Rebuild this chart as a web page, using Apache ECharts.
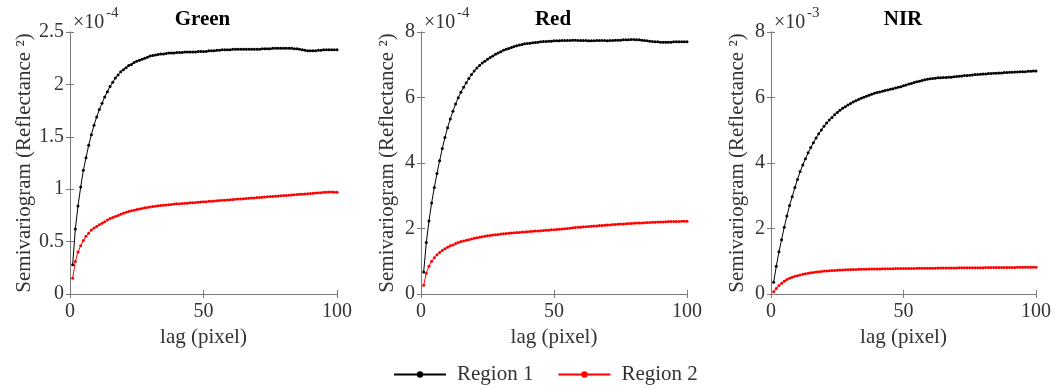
<!DOCTYPE html>
<html>
<head>
<meta charset="utf-8">
<script src="https://cdn.jsdelivr.net/npm/echarts@6/dist/echarts.min.js"></script>
<style>
  html, body { margin: 0; padding: 0; background: #fff; }
  #chart { width: 1054px; height: 389px; }
</style>
</head>
<body>
<div id="chart"></div>
<script>
// Semivariogram vs lag for three bands, two regions each.
// Values are stored in the scaled units shown on each y axis (x10^-4 or x10^-3).

const lags = Array.from({ length: 100 }, (_, i) => i + 1);

const panelTitles = ['Green', 'Red', 'NIR'];
const panelExponents = ['-4', '-4', '-3'];
const yMax = [2.5, 8, 8];
const yInterval = [0.5, 2, 2];
const xTicks = [0, 50, 100];

const greenRegion1 = [
  0.28, 0.62, 0.84, 1.02, 1.18, 1.30, 1.42, 1.52, 1.61, 1.69,
  1.76, 1.82, 1.88, 1.93, 1.98, 2.02, 2.06, 2.09, 2.12, 2.14,
  2.16, 2.18, 2.19, 2.21, 2.22, 2.23, 2.24, 2.25, 2.26, 2.27,
  2.275, 2.28, 2.285, 2.29, 2.29, 2.295, 2.30, 2.30, 2.30, 2.305,
  2.305, 2.305, 2.31, 2.31, 2.31, 2.31, 2.31, 2.315, 2.315, 2.315,
  2.315, 2.32, 2.32, 2.32, 2.325, 2.325, 2.33, 2.33, 2.33, 2.33,
  2.335, 2.335, 2.335, 2.335, 2.335, 2.335, 2.335, 2.335, 2.335, 2.335,
  2.335, 2.34, 2.34, 2.34, 2.34, 2.345, 2.345, 2.345, 2.345, 2.345,
  2.345, 2.345, 2.345, 2.34, 2.34, 2.335, 2.33, 2.325, 2.32, 2.32,
  2.32, 2.32, 2.325, 2.325, 2.33, 2.33, 2.33, 2.33, 2.33, 2.33
];
const greenRegion2 = [
  0.15, 0.31, 0.40, 0.46, 0.51, 0.55, 0.58, 0.61, 0.63, 0.645,
  0.66, 0.675, 0.69, 0.705, 0.72, 0.73, 0.74, 0.75, 0.76, 0.77,
  0.78, 0.787, 0.794, 0.80, 0.806, 0.812, 0.817, 0.822, 0.826, 0.83,
  0.834, 0.838, 0.841, 0.844, 0.847, 0.85, 0.852, 0.855, 0.858, 0.86,
  0.861, 0.863, 0.866, 0.867, 0.87, 0.871, 0.873, 0.876, 0.877, 0.88,
  0.881, 0.884, 0.885, 0.888, 0.89, 0.891, 0.894, 0.895, 0.898, 0.90,
  0.901, 0.903, 0.906, 0.907, 0.91, 0.911, 0.913, 0.915, 0.917, 0.92,
  0.921, 0.923, 0.925, 0.927, 0.93, 0.931, 0.933, 0.935, 0.937, 0.94,
  0.941, 0.943, 0.945, 0.947, 0.95, 0.951, 0.953, 0.955, 0.957, 0.96,
  0.961, 0.963, 0.965, 0.967, 0.97, 0.972, 0.974, 0.973, 0.972, 0.97
];
const redRegion1 = [
  0.67, 1.57, 2.23, 2.78, 3.25, 3.68, 4.07, 4.44, 4.78, 5.08,
  5.34, 5.58, 5.80, 5.99, 6.16, 6.31, 6.45, 6.58, 6.70, 6.81,
  6.90, 6.98, 7.05, 7.11, 7.17, 7.22, 7.27, 7.32, 7.36, 7.40,
  7.44, 7.47, 7.50, 7.53, 7.56, 7.58, 7.60, 7.62, 7.64, 7.65,
  7.66, 7.67, 7.68, 7.69, 7.70, 7.71, 7.71, 7.72, 7.72, 7.73,
  7.73, 7.73, 7.74, 7.74, 7.74, 7.74, 7.75, 7.75, 7.74, 7.74,
  7.74, 7.74, 7.73, 7.73, 7.73, 7.74, 7.74, 7.74, 7.74, 7.73,
  7.74, 7.74, 7.75, 7.75, 7.75, 7.76, 7.76, 7.76, 7.77, 7.77,
  7.76, 7.76, 7.75, 7.74, 7.73, 7.72, 7.71, 7.70, 7.70, 7.69,
  7.69, 7.69, 7.69, 7.69, 7.70, 7.70, 7.70, 7.70, 7.70, 7.70
];
const redRegion2 = [
  0.27, 0.63, 0.85, 1.00, 1.11, 1.20, 1.27, 1.33, 1.38, 1.43,
  1.47, 1.50, 1.54, 1.57, 1.60, 1.62, 1.64, 1.66, 1.68, 1.70,
  1.72, 1.73, 1.75, 1.76, 1.78, 1.79, 1.80, 1.81, 1.82, 1.83,
  1.84, 1.85, 1.855, 1.86, 1.87, 1.875, 1.88, 1.89, 1.895, 1.90,
  1.91, 1.915, 1.92, 1.925, 1.93, 1.94, 1.945, 1.95, 1.96, 1.965,
  1.97, 1.98, 1.985, 1.99, 2.00, 2.01, 2.02, 2.03, 2.035, 2.04,
  2.05, 2.055, 2.06, 2.07, 2.075, 2.08, 2.09, 2.095, 2.10, 2.105,
  2.11, 2.12, 2.125, 2.13, 2.135, 2.14, 2.145, 2.15, 2.155, 2.16,
  2.165, 2.17, 2.17, 2.175, 2.18, 2.185, 2.19, 2.19, 2.195, 2.20,
  2.20, 2.205, 2.21, 2.21, 2.21, 2.215, 2.215, 2.22, 2.22, 2.22
];
const nirRegion1 = [
  0.36, 0.85, 1.29, 1.66, 2.04, 2.38, 2.70, 2.97, 3.25, 3.50,
  3.74, 3.94, 4.13, 4.31, 4.47, 4.62, 4.76, 4.89, 5.01, 5.12,
  5.22, 5.31, 5.39, 5.47, 5.54, 5.61, 5.67, 5.72, 5.77, 5.82,
  5.86, 5.90, 5.94, 5.98, 6.01, 6.04, 6.07, 6.10, 6.13, 6.15,
  6.17, 6.19, 6.21, 6.23, 6.25, 6.27, 6.29, 6.31, 6.33, 6.36,
  6.38, 6.41, 6.43, 6.46, 6.48, 6.50, 6.52, 6.54, 6.56, 6.57,
  6.58, 6.59, 6.60, 6.60, 6.61, 6.61, 6.62, 6.62, 6.63, 6.64,
  6.65, 6.66, 6.67, 6.67, 6.68, 6.69, 6.70, 6.70, 6.71, 6.72,
  6.72, 6.73, 6.73, 6.74, 6.74, 6.75, 6.75, 6.76, 6.76, 6.77,
  6.77, 6.78, 6.78, 6.79, 6.79, 6.79, 6.80, 6.80, 6.81, 6.81
];
const nirRegion2 = [
  0.07, 0.17, 0.26, 0.33, 0.39, 0.44, 0.48, 0.51, 0.54, 0.56,
  0.58, 0.60, 0.62, 0.635, 0.65, 0.66, 0.67, 0.68, 0.69, 0.70,
  0.705, 0.71, 0.715, 0.72, 0.725, 0.73, 0.735, 0.74, 0.742, 0.745,
  0.748, 0.75, 0.752, 0.754, 0.756, 0.758, 0.76, 0.762, 0.764, 0.765,
  0.767, 0.768, 0.77, 0.771, 0.772, 0.773, 0.775, 0.776, 0.777, 0.778,
  0.779, 0.78, 0.781, 0.782, 0.783, 0.784, 0.785, 0.786, 0.787, 0.788,
  0.789, 0.79, 0.791, 0.792, 0.793, 0.794, 0.794, 0.795, 0.796, 0.797,
  0.798, 0.799, 0.80, 0.80, 0.801, 0.802, 0.803, 0.803, 0.804, 0.805,
  0.806, 0.806, 0.807, 0.808, 0.808, 0.809, 0.81, 0.81, 0.811, 0.811,
  0.812, 0.812, 0.813, 0.813, 0.814, 0.814, 0.815, 0.815, 0.815, 0.816
];

const region1 = [greenRegion1, redRegion1, nirRegion1];
const region2 = [greenRegion2, redRegion2, nirRegion2];

const FONT = "'Liberation Serif', 'Times New Roman', serif";
const AXIS_COLOR = '#7a7a7a';
const TEXT_COLOR = '#333';

const grids = [
  { left: 70, top: 32, width: 267, height: 262 },
  { left: 421, top: 32, width: 266, height: 262 },
  { left: 771, top: 32, width: 266, height: 262 }
];
const yNameGap = [35, 23, 23];

const pairs = arr => lags.map((l, i) => [l, arr[i]]);

const xAxes = [], yAxes = [], series = [], titles = [], graphics = [];

grids.forEach((g, i) => {
  const common = {
    gridIndex: i,
    axisLine: { show: true, lineStyle: { color: AXIS_COLOR, width: 1 } },
    axisTick: { show: true, inside: true, length: 4, lineStyle: { color: AXIS_COLOR } },
    splitLine: { show: false }
  };
  xAxes.push(Object.assign({}, common, {
    type: 'value', position: 'bottom', min: xTicks[0], max: xTicks[2], interval: xTicks[1] - xTicks[0],
    axisLabel: { fontFamily: FONT, fontSize: 20, color: TEXT_COLOR, margin: 8 },
    name: 'lag (pixel)', nameLocation: 'middle', nameGap: 33,
    nameTextStyle: { fontFamily: FONT, fontSize: 21, color: TEXT_COLOR }
  }));
  xAxes.push(Object.assign({}, common, {
    type: 'value', position: 'top', min: xTicks[0], max: xTicks[2], interval: xTicks[1] - xTicks[0],
    axisLabel: { show: false }
  }));
  yAxes.push(Object.assign({}, common, {
    type: 'value', position: 'left', min: 0, max: yMax[i], interval: yInterval[i],
    axisLabel: { fontFamily: FONT, fontSize: 20, color: TEXT_COLOR, margin: 6 },
    name: 'Semivariogram (Reflectance ²)', nameLocation: 'middle', nameGap: yNameGap[i],
    nameTextStyle: { fontFamily: FONT, fontSize: 21, color: TEXT_COLOR }
  }));
  yAxes.push(Object.assign({}, common, {
    type: 'value', position: 'right', min: 0, max: yMax[i], interval: yInterval[i],
    axisLabel: { show: false }
  }));

  series.push({
    name: 'Region 1', type: 'line', xAxisIndex: 2 * i, yAxisIndex: 2 * i,
    data: pairs(region1[i]), symbol: 'circle', symbolSize: 3, showAllSymbol: true,
    lineStyle: { color: '#000', width: 1 }, itemStyle: { color: '#000' },
    emphasis: { disabled: true }
  });
  series.push({
    name: 'Region 2', type: 'line', xAxisIndex: 2 * i, yAxisIndex: 2 * i,
    data: pairs(region2[i]), symbol: 'circle', symbolSize: 3, showAllSymbol: true,
    lineStyle: { color: '#ff0000', width: 1 }, itemStyle: { color: '#ff0000' },
    emphasis: { disabled: true }
  });

  titles.push({
    text: panelTitles[i], left: g.left + g.width / 2 - 6, top: 4, textAlign: 'center',
    textStyle: { fontFamily: FONT, fontSize: 21, fontWeight: 'bold', color: '#000' }
  });

  graphics.push({
    type: 'text', left: g.left + 3, top: 13,
    style: { text: '×10', font: '20px ' + FONT, fill: TEXT_COLOR }
  });
  graphics.push({
    type: 'text', left: g.left + 36, top: 6,
    style: { text: panelExponents[i], font: '15px ' + FONT, fill: TEXT_COLOR }
  });
});

const chart = echarts.init(document.getElementById('chart'), null, { renderer: 'canvas' });
chart.setOption({
  animation: false,
  backgroundColor: '#fff',
  title: titles,
  grid: grids,
  xAxis: xAxes,
  yAxis: yAxes,
  series: series,
  graphic: graphics,
  legend: {
    data: ['Region 1', 'Region 2'],
    left: 388, top: 359,
    itemWidth: 52, itemHeight: 8, itemGap: 24,
    textStyle: { fontFamily: FONT, fontSize: 21, color: TEXT_COLOR, padding: [0, 0, 0, 6] }
  }
});
</script>
</body>
</html>
